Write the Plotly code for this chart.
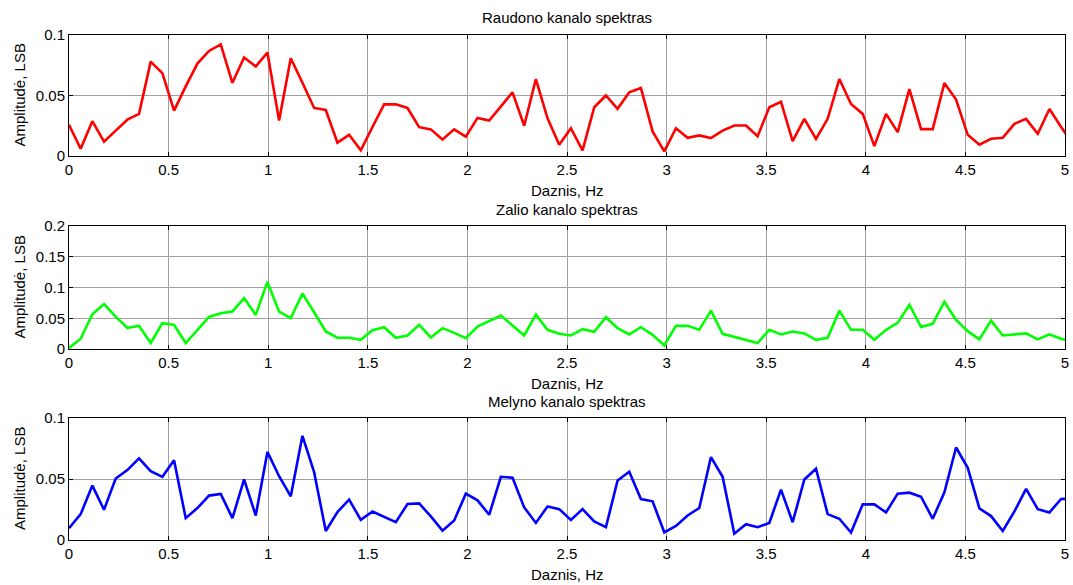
import plotly.graph_objects as go

# frequency bins: fs = 30 Hz, N = 512
fs = 30.0
n_fft = 512
n_bins = 87
freq = [k * fs / n_fft for k in range(n_bins)]

red = [0.0258, 0.006, 0.0288, 0.0118, 0.021, 0.030, 0.0348, 0.078, 0.0685, 0.0375,
       0.0575, 0.0764, 0.0868, 0.0923, 0.0605, 0.0814, 0.074, 0.0855, 0.0293, 0.0808,
       0.0605, 0.0397, 0.038, 0.011, 0.0175, 0.0047, 0.024, 0.0427, 0.0427, 0.0397,
       0.0238, 0.022, 0.0137, 0.022, 0.016, 0.0315, 0.0293, 0.041, 0.0526, 0.025,
       0.0636, 0.0312, 0.0093, 0.023, 0.0047, 0.0403, 0.050, 0.039, 0.0526, 0.0562,
       0.0203, 0.0038, 0.023, 0.015, 0.017, 0.0148, 0.021, 0.0252, 0.0252, 0.0164,
       0.0403, 0.0447, 0.0123, 0.0307, 0.0142, 0.0307, 0.0636, 0.043, 0.0348, 0.0082,
       0.0348, 0.0197, 0.0553, 0.0222, 0.0222, 0.0603, 0.0466, 0.0175, 0.0093, 0.0142,
       0.015, 0.0266, 0.0307, 0.0184, 0.0389, 0.024, 0.010]

green = [0.0016, 0.0167, 0.0565, 0.0731, 0.0527, 0.0344, 0.0376, 0.0097, 0.042, 0.0392,
         0.0097, 0.0312, 0.0522, 0.058, 0.0608, 0.0828, 0.0554, 0.1091, 0.0608, 0.050,
         0.0903, 0.0597, 0.0285, 0.0183, 0.0183, 0.015, 0.0306, 0.0355, 0.0183, 0.022,
         0.0392, 0.0188, 0.0339, 0.0263, 0.0177, 0.0366, 0.0457, 0.0543, 0.0382, 0.022,
         0.0559, 0.0312, 0.0247, 0.022, 0.0323, 0.028, 0.0516, 0.0339, 0.0237, 0.0355,
         0.0231, 0.0059, 0.0376, 0.0376, 0.0312, 0.0624, 0.0247, 0.0195, 0.0147, 0.0097,
         0.0312, 0.0237, 0.0285, 0.0253, 0.015, 0.0183, 0.0624, 0.0312, 0.0312, 0.015,
         0.0312, 0.0425, 0.072, 0.036, 0.0409, 0.0769, 0.0473, 0.029, 0.0156, 0.0462,
         0.022, 0.0237, 0.0253, 0.0156, 0.0237, 0.0167, 0.012]

blue = [0.0096, 0.0212, 0.0446, 0.0248, 0.0504, 0.0573, 0.0669, 0.0565, 0.0518, 0.0653,
        0.0179, 0.0262, 0.0364, 0.0377, 0.0179, 0.0496, 0.0201, 0.0722, 0.0523, 0.0358,
        0.0854, 0.0556, 0.0074, 0.0229, 0.0331, 0.0165, 0.0234, 0.0193, 0.0146, 0.0295,
        0.030, 0.0193, 0.0077, 0.016, 0.038, 0.0325, 0.0207, 0.0518, 0.051, 0.0267,
        0.014, 0.0275, 0.0253, 0.0165, 0.0253, 0.0152, 0.0105, 0.0488, 0.0559, 0.0336,
        0.0317, 0.0063, 0.0116, 0.0201, 0.0262, 0.068, 0.0518, 0.0052, 0.013, 0.0105,
        0.014, 0.0413, 0.0146, 0.0496, 0.0584, 0.0212, 0.0174, 0.0061, 0.0292, 0.0292,
        0.0226, 0.038, 0.0388, 0.0355, 0.0174, 0.0391, 0.0758, 0.0592, 0.0259, 0.0196,
        0.0074, 0.0234, 0.0419, 0.0253, 0.0226, 0.0336, 0.034]

titles = ["Raudono kanalo spektras", "Zalio kanalo spektras", "Melyno kanalo spektras"]
x_label = "Daznis, Hz"
y_label = "Amplitudė, LSB"
y_max = [0.1, 0.2, 0.1]
series = [red, green, blue]
colors = ["#ff0000", "#00ff00", "#0000ff"]

W, H = 1073, 585
L, R, T, B = 69, 8, 35, 45          # plot-area margins in pixels
PW, PH = W - L - R, H - T - B
panels_px = [(35, 156), (226, 349), (418, 540)]  # top, bottom in pixels


def px_x(px):
    return (px - L) / PW


def px_y(py):
    return (H - B - py) / PH


FONT = "Liberation Sans, Arial, sans-serif"

fig = go.Figure()
annotations = []
for i, (vals, col) in enumerate(zip(series, colors)):
    ax = "" if i == 0 else str(i + 1)
    fig.add_trace(go.Scatter(x=freq, y=vals, mode="lines",
                             line=dict(color=col, width=2.6),
                             xaxis="x" + ax, yaxis="y" + ax, showlegend=False,
                             hoverinfo="skip"))
    top, bot = panels_px[i]
    ydom = [px_y(bot), px_y(top)]
    axis_common = dict(showline=True, linecolor="black", linewidth=1, mirror="ticks",
                       ticks="inside", ticklen=4, tickcolor="black", automargin=False,
                       showgrid=True, gridcolor="#a0a0a0", gridwidth=1,
                       zeroline=False, tickfont=dict(family=FONT, size=15, color="black"))
    fig.layout["xaxis" + ax] = dict(domain=[0, 1], range=[0, 5], dtick=0.5, tick0=0,
                                    anchor="y" + ax, **axis_common)
    fig.layout["yaxis" + ax] = dict(domain=ydom, range=[0, y_max[i]], dtick=0.05, tick0=0,
                                    anchor="x" + ax, **axis_common)
    annotations.append(dict(text=titles[i], x=0.5, y=px_y(top - 17),
                            xref="paper", yref="paper", xanchor="center", yanchor="middle",
                            showarrow=False, font=dict(family=FONT, size=15, color="black")))
    annotations.append(dict(text=x_label, x=0.5, y=px_y(bot + 34),
                            xref="paper", yref="paper", xanchor="center", yanchor="middle",
                            showarrow=False, font=dict(family=FONT, size=15, color="black")))
    annotations.append(dict(text=y_label, x=px_x(19), y=px_y((top + bot) / 2),
                            xref="paper", yref="paper", xanchor="center", yanchor="middle",
                            textangle=-90, showarrow=False,
                            font=dict(family=FONT, size=15, color="black")))

fig.update_layout(width=W, height=H, margin=dict(l=L, r=R, t=T, b=B, pad=0),
                  paper_bgcolor="white", plot_bgcolor="white",
                  annotations=annotations, showlegend=False)

fig.write_html("out.html", config={"displayModeBar": False},
               post_script="document.body.style.margin='0';document.body.style.padding='0';")
